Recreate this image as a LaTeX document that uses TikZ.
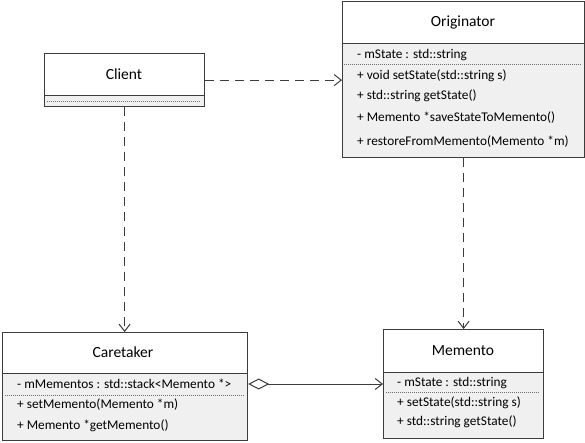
\documentclass[tikz,border=0pt]{standalone}
\usepackage{fontspec}
\setmainfont{Carlito}
\usetikzlibrary{arrows.meta}
\definecolor{edge}{HTML}{3C3C3C}
\definecolor{body}{HTML}{F0F0F0}
\definecolor{dotc}{HTML}{6E6E6E}
\begin{document}
\begin{tikzpicture}[x=1pt,y=-1pt,
  hdr/.style={draw=edge,line width=1.2pt,fill=white,rectangle,anchor=north west,inner sep=0pt},
  bdy/.style={draw=edge,line width=1.2pt,fill=body,rectangle,anchor=north west,inner sep=0pt},
  outer/.style={draw=edge,line width=1.2pt,rectangle,anchor=north west,inner sep=0pt},
  ttl/.style={font=\fontsize{15.5}{17}\selectfont,inner sep=0pt},
  mem/.style={font=\fontsize{13.3}{15}\selectfont,anchor=west,inner sep=0pt},
  sep/.style={dotc,line width=1pt,dash pattern=on 1pt off 1pt},
  dep/.style={edge,line width=1pt,dash pattern=on 9pt off 6pt,-{Straight Barb[length=7pt,width=11pt,line width=1pt]}},
  assoc/.style={edge,line width=1pt,{Diamond[open,length=21pt,width=11pt,line width=1pt,fill=white]}-{Straight Barb[length=7pt,width=11pt,line width=1pt]}}
]
\useasboundingbox (0,0) rectangle (585,442);

% Originator
\node[bdy,minimum width=242pt,minimum height=114pt] (origB) at (342,43) {};
\node[hdr,minimum width=242pt,minimum height=42pt] (origH) at (342,1) {};
\node[outer,minimum width=242pt,minimum height=156pt] (orig) at (342,1) {};
\node[ttl] (origT) at (463,22) {Originator};
\node[mem] (o1) at (357,55) {- mState : std::string};
\draw[sep] (344,64) -- (582,64);
\node[mem] (o2) at (357,76) {+ void setState(std::string s)};
\node[mem] (o3) at (357,96) {+ std::string getState()};
\node[mem] (o4) at (357,118) {+ Memento *saveStateToMemento()};
\node[mem] (o5) at (357,142) {+ restoreFromMemento(Memento *m)};

% Client
\node[bdy,minimum width=160pt,minimum height=11pt] (clientB) at (44,95) {};
\node[hdr,minimum width=160pt,minimum height=42pt] (clientH) at (44,53) {};
\node[outer,minimum width=160pt,minimum height=53pt] (client) at (44,53) {};
\node[ttl] (clientT) at (124,74) {Client};
\draw[sep] (47,101) -- (201,101);

% Caretaker
\node[bdy,minimum width=245pt,minimum height=67pt] (careB) at (2,373) {};
\node[hdr,minimum width=245pt,minimum height=41pt] (careH) at (2,332) {};
\node[outer,minimum width=245pt,minimum height=108pt] (care) at (2,332) {};
\node[ttl] (careT) at (123,352) {Caretaker};
\node[mem] (c1) at (17,384) {- mMementos : std::stack<Memento *>};
\draw[sep] (5,395) -- (244,395);
\node[mem] (c2) at (17,405) {+ setMemento(Memento *m)};
\node[mem] (c3) at (17,426) {+ Memento *getMemento()};

% Memento
\node[bdy,minimum width=160pt,minimum height=66pt] (memB) at (383,372) {};
\node[hdr,minimum width=160pt,minimum height=43pt] (memH) at (383,329) {};
\node[outer,minimum width=160pt,minimum height=109pt] (memo) at (383,329) {};
\node[ttl] (memT) at (463,351) {Memento};
\node[mem] (m1) at (397,383) {- mState : std::string};
\draw[sep] (386,392) -- (540,392);
\node[mem] (m2) at (397,403) {+ setState(std::string s)};
\node[mem] (m3) at (397,422) {+ std::string getState()};

% connectors
\draw[dep] (client.east) -- (client.east -| orig.west);
\draw[dep] (client.south) -- (client.south |- care.north);
\draw[dep] (orig.south) -- (orig.south |- memo.north);
\draw[assoc] (care.east |- c1.west) -- (memo.west |- c1.west);
\end{tikzpicture}
\end{document}
